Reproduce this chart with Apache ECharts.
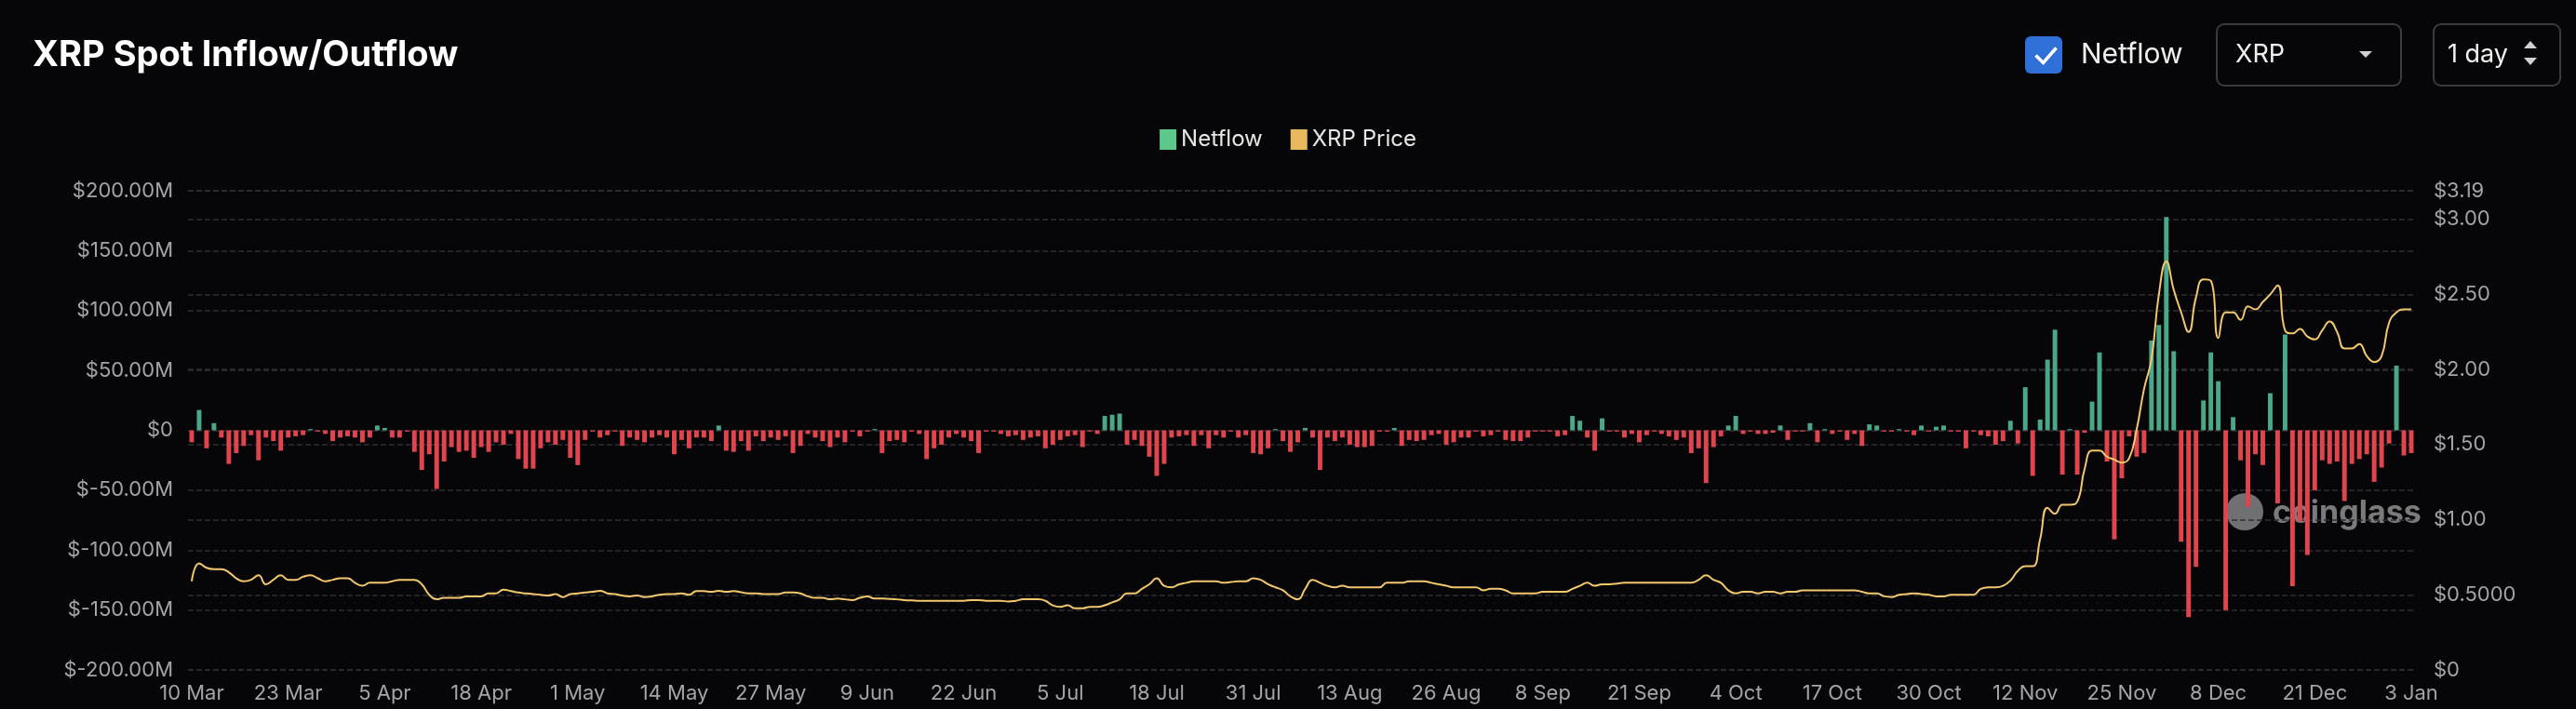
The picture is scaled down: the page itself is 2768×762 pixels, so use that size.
<!DOCTYPE html>
<html>
<head>
<meta charset="utf-8">
<script src="https://cdn.jsdelivr.net/npm/echarts@6/dist/echarts.min.js"></script>
<style>
  html, body { margin: 0; padding: 0; background: #060609; }
  #chart { width: 2768px; height: 762px; }
</style>
</head>
<body>
<div id="chart"></div>
<script>
// daily categories, 10 Mar -> 3 Jan
const startDate = new Date(2024, 2, 10);
const dayCount = 300;
const monthNames = ["Jan", "Feb", "Mar", "Apr", "May", "Jun", "Jul", "Aug", "Sep", "Oct", "Nov", "Dec"];
const categories = [];
for (let i = 0; i < dayCount; i++) {
  const d = new Date(startDate.getTime() + i * 86400000);
  categories.push(d.getDate() + " " + monthNames[d.getMonth()]);
}

// netflow in millions USD
const netflow = [
  -10, 17, -15, 6, -6, -28, -19, -13, -4, -25,
  -6, -9, -17, -6, -5, -4, 1, -1, -3, -9,
  -6, -5, -6, -10, -6, 4, 2, -6, -6, -1,
  -18, -33, -20, -49, -26, -14, -18, -17, -23, -14,
  -18, -10, -12, -3, -24, -32, -32, -15, -10, -12,
  -8, -23, -29, -8, -1, -6, -4, -1, -13, -6,
  -8, -10, -6, -4, -6, -20, -8, -15, -6, -6,
  -9, 4, -17, -18, -9, -17, -5, -9, -6, -8,
  -5, -19, -13, -3, -6, -9, -14, -6, -10, -1,
  -5, -1, 1, -19, -9, -8, -10, -1, -3, -24,
  -15, -12, -6, -3, -6, -9, -19, -1, -1, -3,
  -5, -4, -8, -6, -5, -15, -12,
  -8, -5, -4, -14, -1, -3, 12, 13, 14, -12,
  -8, -13, -22, -38, -28, -6, -5, -4, -13, -4,
  -15, -4, -6, -1, -6, -4, -19, -20, -15, 1,
  -9, -18, -10, 2, -6, -33, -6, -9, -6, -12,
  -14, -14, -13, -1, -1, 2, -13, -8, -9, -8,
  -4, -3, -12, -10, -6, -6, -1, -5, -4, -1,
  -8, -9, -9, -6, -1, -1, -1, -5, -4, 12,
  8, -6, -17, 10, -1, -1, -6, -3, -10, -4,
  -1, -3, -5, -8, -6, -19, -15, -44, -14, -5,
  4, 12, -3, -1, -3, -3, -2, 4, -8, -1,
  -1, 6, -10, 1, -3, -1, -8, -3, -13, 5,
  4, -1, -1, 1, -1, -4, 4, -1, 3, 4,
  -1, -1, -15, -1, -4, -5, -12, -9,
  8, -11, 36, -38, 9, 59, 84, -37, 1, -37,
  -2, 24, 65, -26, -91, -40, -5, -22, -19, 75,
  88, 178, 66, -93, -156, -114, 25, 65, 41, -150,
  11, -25, -64, -20, -29, 31, -61, 80, -130, -76,
  -104, -50, -25, -28, -26, -59, -28, -24, -20, -43,
  -31, -11, 54, -21, -19
];

// XRP price in USD
const price = [
  0.59, 0.71, 0.68, 0.67, 0.67, 0.65, 0.61, 0.59, 0.60, 0.63,
  0.57, 0.60, 0.63, 0.60, 0.60, 0.62, 0.63, 0.61, 0.59, 0.60,
  0.61, 0.61, 0.58, 0.56, 0.58, 0.58, 0.58, 0.59, 0.60, 0.60,
  0.60, 0.57, 0.50, 0.47, 0.48, 0.48, 0.48, 0.49, 0.49, 0.49,
  0.51, 0.51, 0.535, 0.525, 0.515, 0.51, 0.505, 0.50, 0.495, 0.505,
  0.485, 0.505, 0.51, 0.515, 0.52, 0.527, 0.51, 0.505, 0.495, 0.49,
  0.495, 0.485, 0.49, 0.50, 0.505, 0.505, 0.51, 0.50, 0.525, 0.525,
  0.52, 0.527, 0.52, 0.525, 0.517, 0.51, 0.51, 0.505, 0.505, 0.505,
  0.515, 0.515, 0.51, 0.49, 0.48, 0.48, 0.47, 0.475, 0.47, 0.465,
  0.48, 0.49, 0.475, 0.475, 0.473, 0.47, 0.465, 0.463, 0.46, 0.46,
  0.46, 0.46, 0.46, 0.46, 0.46, 0.465, 0.465, 0.46, 0.46, 0.46,
  0.455, 0.46, 0.47, 0.47, 0.47, 0.46, 0.43,
  0.42, 0.43, 0.41, 0.41, 0.42, 0.42, 0.43, 0.45, 0.47, 0.51,
  0.51, 0.54, 0.57, 0.61, 0.56, 0.55, 0.57, 0.58, 0.59, 0.59,
  0.59, 0.59, 0.58, 0.585, 0.59, 0.59, 0.61, 0.60, 0.57, 0.55,
  0.53, 0.49, 0.47, 0.54, 0.60, 0.58, 0.56, 0.55, 0.56, 0.55,
  0.55, 0.55, 0.55, 0.55, 0.58, 0.58, 0.58, 0.59, 0.59, 0.59,
  0.58, 0.57, 0.56, 0.55, 0.55, 0.55, 0.55, 0.53, 0.54, 0.54,
  0.53, 0.51, 0.51, 0.51, 0.51, 0.52, 0.52, 0.52, 0.52, 0.54,
  0.56, 0.58, 0.56, 0.57, 0.57, 0.575, 0.58, 0.58, 0.58, 0.58,
  0.58, 0.58, 0.58, 0.58, 0.58, 0.58, 0.60, 0.63, 0.60, 0.58,
  0.53, 0.51, 0.52, 0.52, 0.51, 0.52, 0.52, 0.51, 0.52, 0.52,
  0.53, 0.53, 0.53, 0.53, 0.53, 0.53, 0.53, 0.53, 0.52, 0.51,
  0.51, 0.49, 0.485, 0.50, 0.505, 0.51, 0.505, 0.50, 0.49, 0.49,
  0.50, 0.50, 0.50, 0.50, 0.54, 0.55, 0.55, 0.56,
  0.595, 0.66, 0.69, 0.69, 0.87, 1.08, 1.04, 1.10, 1.10, 1.12,
  1.34, 1.46, 1.46, 1.42, 1.40, 1.38, 1.41, 1.60, 1.87, 2.07,
  2.50, 2.72, 2.53, 2.38, 2.25, 2.48, 2.60, 2.59, 2.21, 2.38,
  2.38, 2.33, 2.42, 2.40, 2.45, 2.50, 2.56, 2.26, 2.24, 2.27,
  2.22, 2.20, 2.26, 2.32, 2.25, 2.14, 2.14, 2.17, 2.09, 2.05,
  2.09, 2.31, 2.38, 2.40, 2.40
];

const leftMin = -200;
const leftMax = 200;
const leftStep = 50;
const rightMin = 0;
const rightMax = 3.19;
const rightStep = 0.5;

const green = "#4aa889";
const red = "#e0454d";
const gold = "#f2c76e";
const labelColor = "#a3a3a8";
const splitColor = "#2e2e33";
const fontFamily = "Inter, Roboto, 'Noto Sans', sans-serif";

const chart = echarts.init(document.getElementById("chart"));

const option = {
  backgroundColor: "#060609",
  animation: false,
  textStyle: { fontFamily: fontFamily },
  title: {
    text: "XRP Spot Inflow/Outflow",
    left: 30,
    top: 36,
    textStyle: { color: "#ffffff", fontSize: 38, fontWeight: "bold", fontFamily: fontFamily },
  },
  legend: {
    top: 133,
    left: "center",
    itemWidth: 18,
    itemHeight: 22,
    itemGap: 30,
    textStyle: { color: "#e6e6e6", fontSize: 24 },
    data: [
      { name: "Netflow", icon: "rect", itemStyle: { color: "#5cc98b" } },
      { name: "XRP Price", icon: "rect", itemStyle: { color: "#e8b95c" } },
    ],
  },
  grid: { left: 202, right: 173, top: 205, bottom: 42 },
  xAxis: {
    type: "category",
    data: categories,
    boundaryGap: true,
    axisLine: { show: false },
    axisTick: { show: false },
    axisLabel: { interval: 12, color: labelColor, fontSize: 22, margin: 14 },
  },
  yAxis: [
    {
      type: "value",
      min: leftMin,
      max: leftMax,
      interval: leftStep,
      axisLine: { show: false },
      axisTick: { show: false },
      axisLabel: {
        color: labelColor,
        fontSize: 22,
        margin: 16,
        formatter: (v) => (v === 0 ? "$0" : "$" + v.toFixed(2) + "M"),
      },
      splitLine: { lineStyle: { color: splitColor, type: "dashed", width: 1.5 } },
    },
    {
      type: "value",
      min: rightMin,
      max: rightMax,
      interval: rightStep,
      position: "right",
      axisLine: { show: false },
      axisTick: { show: false },
      axisLabel: {
        color: labelColor,
        fontSize: 22,
        margin: 20,
        showMaxLabel: true,
        formatter: (v) => (v === 0 ? "$0" : v === 0.5 ? "$0.5000" : "$" + v.toFixed(2)),
      },
      splitLine: { lineStyle: { color: splitColor, type: "dashed", width: 1.5 } },
    },
  ],
  series: [
    {
      name: "Netflow",
      type: "bar",
      data: netflow,
      barWidth: "62%",
      itemStyle: { color: (p) => (p.value >= 0 ? green : red) },
    },
    {
      name: "XRP Price",
      type: "line",
      yAxisIndex: 1,
      data: price,
      smooth: true,
      showSymbol: false,
      lineStyle: { color: gold, width: 2 },
      itemStyle: { color: gold },
      z: 5,
    },
  ],
  graphic: [
    // netflow checkbox
    { type: "rect", left: 2176, top: 39, shape: { width: 40, height: 40, r: 6 }, style: { fill: "#2f6fd8" } },
    { type: "polyline", left: 2185, top: 49, shape: { points: [[0, 10], [8, 18], [22, 2]] }, style: { stroke: "#ffffff", lineWidth: 3.5, fill: null } },
    { type: "text", left: 2236, top: 44, style: { text: "Netflow", fill: "#f0f0f0", fontSize: 30, fontFamily: fontFamily } },
    // coin select
    { type: "rect", left: 2381, top: 25, shape: { width: 198, height: 66, r: 8 }, style: { fill: "#060609", stroke: "#3a3a40", lineWidth: 2 } },
    { type: "text", left: 2402, top: 45, style: { text: "XRP", fill: "#f0f0f0", fontSize: 27, fontFamily: fontFamily } },
    { type: "polygon", left: 2535, top: 55, shape: { points: [[0, 0], [14, 0], [7, 7]] }, style: { fill: "#d0d0d0" } },
    // interval select
    { type: "rect", left: 2614, top: 25, shape: { width: 136, height: 66, r: 8 }, style: { fill: "#060609", stroke: "#3a3a40", lineWidth: 2 } },
    { type: "text", left: 2630, top: 45, style: { text: "1 day", fill: "#f0f0f0", fontSize: 27, fontFamily: fontFamily } },
    { type: "polygon", left: 2712, top: 44, shape: { points: [[0, 8], [7, 0], [14, 8]] }, style: { fill: "#d0d0d0" } },
    { type: "polygon", left: 2712, top: 62, shape: { points: [[0, 0], [14, 0], [7, 8]] }, style: { fill: "#d0d0d0" } },
    // watermark
    { type: "circle", left: 2392, top: 530, shape: { r: 20 }, style: { fill: "rgba(200,200,200,0.55)" } },
    { type: "text", left: 2442, top: 535, style: { text: "coinglass", fill: "rgba(200,200,200,0.6)", fontSize: 34, fontWeight: "bold", fontFamily: fontFamily } },
  ],
};

chart.setOption(option);
</script>
</body>
</html>
